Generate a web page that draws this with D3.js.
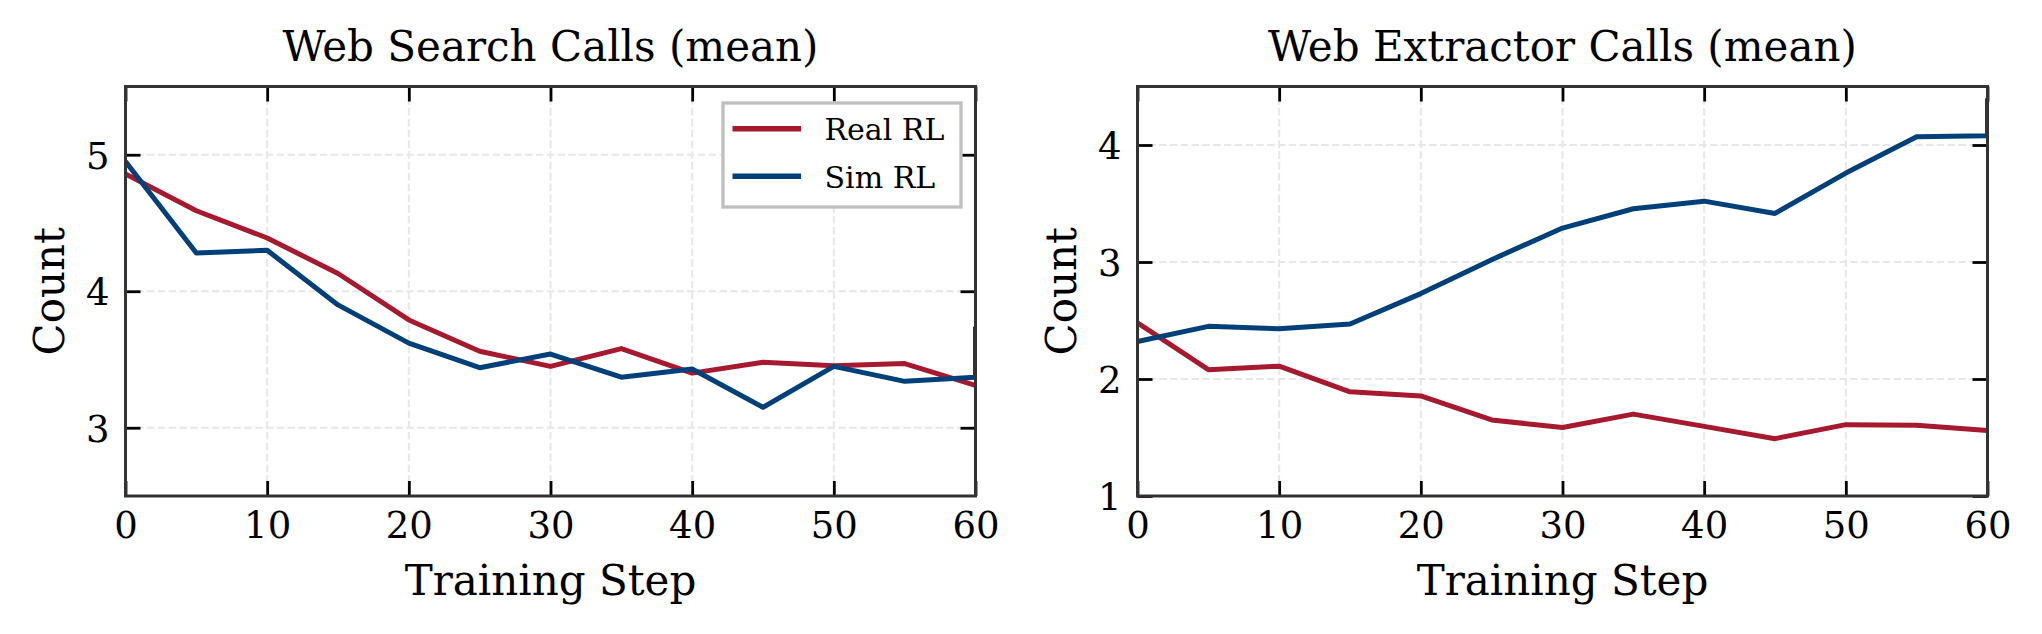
<!DOCTYPE html>
<html>
<head>
<meta charset="utf-8">
<script src="https://cdn.jsdelivr.net/npm/d3@7"></script>
<style>
  html, body { margin: 0; padding: 0; background: #ffffff; }
  svg { display: block; }
  text { font-family: "DejaVu Serif", serif; fill: #000; }
</style>
</head>
<body>
<svg id="chart" width="2042" height="634"></svg>
<script>
// ---------------- data ----------------
const steps = [0, 5, 10, 15, 20, 25, 30, 35, 40, 45, 50, 55, 60];
const seriesNames = ["Real RL", "Sim RL"];

const searchReal = [4.86, 4.59, 4.39, 4.13, 3.79, 3.56, 3.45, 3.58, 3.40, 3.48, 3.455, 3.47, 3.31];
const searchSim  = [4.95, 4.28, 4.30, 3.90, 3.62, 3.44, 3.54, 3.37, 3.43, 3.15, 3.45, 3.34, 3.37];
const searchSimFinal = 3.74;      // last logged value at step 60

const extractReal = [2.48, 2.08, 2.11, 1.89, 1.855, 1.65, 1.585, 1.70, 1.595, 1.49, 1.61, 1.605, 1.56];
const extractSim  = [2.32, 2.45, 2.43, 2.47, 2.73, 3.02, 3.29, 3.455, 3.52, 3.415, 3.76, 4.07, 4.08];
const extractSimFinal = 4.40;     // last logged value at step 60

const xTicks = [0, 10, 20, 30, 40, 50, 60];
const searchYTicks = [3, 4, 5];
const extractYTicks = [1, 2, 3, 4];

const titles = ["Web Search Calls (mean)", "Web Extractor Calls (mean)"];
const xLabel = "Training Step";
const yLabel = "Count";

// ---------------- styles ----------------
const colors = { "Real RL": "#a6192e", "Sim RL": "#00407a" };
const svg = d3.select("#chart");

const panels = [
  { left: 125.5, right: 975.5, yDomain: [2.5, 5.5], yTicks: searchYTicks, title: titles[0],
    real: searchReal, sim: searchSim, simFinal: searchSimFinal, legend: true },
  { left: 1137.5, right: 1987.5, yDomain: [1, 4.5], yTicks: extractYTicks, title: titles[1],
    real: extractReal, sim: extractSim, simFinal: extractSimFinal, legend: false }
];
const plotTop = 86.5, plotBottom = 496;

panels.forEach((p, i) => {
  const g = svg.append("g");
  const x = d3.scaleLinear().domain([0, 60]).range([p.left, p.right]);
  const y = d3.scaleLinear().domain(p.yDomain).range([plotBottom, plotTop]);

  const clipId = "clip" + i;
  svg.append("defs").append("clipPath").attr("id", clipId)
    .append("rect").attr("x", p.left).attr("y", plotTop)
    .attr("width", p.right - p.left).attr("height", plotBottom - plotTop);

  // grid
  const grid = g.append("g").attr("stroke", "#e8e8e8").attr("stroke-width", 2)
    .attr("stroke-dasharray", "7.5,3.3");
  xTicks.forEach(t => grid.append("line").attr("x1", x(t)).attr("x2", x(t)).attr("y1", plotTop).attr("y2", plotBottom));
  p.yTicks.forEach(t => grid.append("line").attr("x1", p.left).attr("x2", p.right).attr("y1", y(t)).attr("y2", y(t)));

  // lines
  const line = d3.line().x(d => x(d[0])).y(d => y(d[1]));
  const realPts = steps.map((s, k) => [s, p.real[k]]);
  const simPts = steps.map((s, k) => [s, p.sim[k]]).concat([[steps[steps.length - 1], p.simFinal]]);
  const lg = g.append("g").attr("clip-path", `url(#${clipId})`);
  lg.append("path").attr("d", line(realPts)).attr("fill", "none")
    .attr("stroke", colors["Real RL"]).attr("stroke-width", 5).attr("stroke-linejoin", "round");
  lg.append("path").attr("d", line(simPts)).attr("fill", "none")
    .attr("stroke", colors["Sim RL"]).attr("stroke-width", 5).attr("stroke-linejoin", "round");

  // axes (ticks inward on all sides)
  const tickLen = 15;
  const axB = d3.axisBottom(x).tickValues(xTicks).tickSize(-tickLen).tickFormat(d3.format("d"));
  const axT = d3.axisTop(x).tickValues(xTicks).tickSize(-tickLen).tickFormat("");
  const axL = d3.axisLeft(y).tickValues(p.yTicks).tickSize(-tickLen).tickFormat(d3.format("d"));
  const axR = d3.axisRight(y).tickValues(p.yTicks).tickSize(-tickLen).tickFormat("");

  const gb = g.append("g").attr("transform", `translate(0,${plotBottom})`).call(axB);
  const gt = g.append("g").attr("transform", `translate(0,${plotTop})`).call(axT);
  const gl = g.append("g").attr("transform", `translate(${p.left},0)`).call(axL);
  const gr = g.append("g").attr("transform", `translate(${p.right},0)`).call(axR);
  [gb, gt, gl, gr].forEach(a => {
    a.select(".domain").remove();
    a.selectAll(".tick line").attr("stroke", "#000").attr("stroke-width", 2.8);
    a.selectAll(".tick text").attr("font-family", "DejaVu Serif").attr("font-size", 37).attr("fill", "#000");
  });
  gb.selectAll(".tick text").attr("dy", null).attr("y", 42);
  gl.selectAll(".tick text").attr("dy", "0.36em").attr("x", -16);

  // spines
  g.append("rect").attr("x", p.left).attr("y", plotTop)
    .attr("width", p.right - p.left).attr("height", plotBottom - plotTop)
    .attr("fill", "none").attr("stroke", "#333").attr("stroke-width", 3);

  // title & labels
  const cx = (p.left + p.right) / 2;
  g.append("text").attr("x", cx).attr("y", 61).attr("text-anchor", "middle")
    .attr("font-size", 42).text(p.title);
  g.append("text").attr("x", cx).attr("y", 595).attr("text-anchor", "middle")
    .attr("font-size", 42).text(xLabel);
  g.append("text").attr("transform", `translate(${p.left - 61.5},${(plotTop + plotBottom) / 2}) rotate(-90)`)
    .attr("text-anchor", "middle").attr("font-size", 42).text(yLabel);

  // legend
  if (p.legend) {
    const lgd = g.append("g");
    lgd.append("rect").attr("x", 723).attr("y", 103).attr("width", 238).attr("height", 104)
      .attr("fill", "#fff").attr("stroke", "#bfbfbf").attr("stroke-width", 3.3);
    seriesNames.forEach((n, k) => {
      const yy = 128.7 + k * 47.6;
      lgd.append("line").attr("x1", 732.5).attr("x2", 801).attr("y1", yy).attr("y2", yy)
        .attr("stroke", colors[n]).attr("stroke-width", 5.5);
      lgd.append("text").attr("x", 824.5).attr("y", yy + 11.3).attr("font-size", 30).text(n);
    });
  }
});
</script>
</body>
</html>
